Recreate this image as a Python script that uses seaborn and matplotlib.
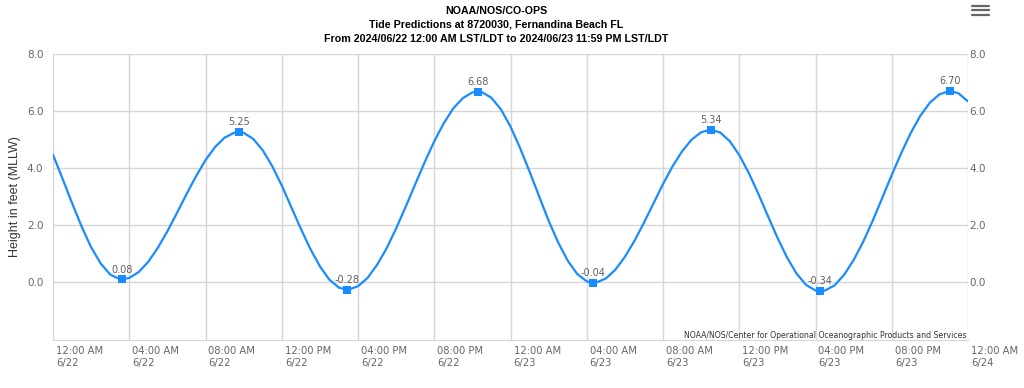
import numpy as np
import pandas as pd
import matplotlib
matplotlib.use("Agg")
import matplotlib.pyplot as plt
import matplotlib.dates as mdates
import matplotlib.transforms as mtransforms
from matplotlib.lines import Line2D
import seaborn as sns

# half-hourly predicted heights (ft, MLLW), from 6/22 00:00
heights = [
    4.46, 3.62, 2.76, 1.94, 1.21, 0.64, 0.25, 0.09,
    0.13, 0.34, 0.70, 1.19, 1.77, 2.41, 3.07, 3.70,
    4.27, 4.73, 5.06, 5.23, 5.23, 5.02, 4.62, 4.06,
    3.38, 2.62, 1.86, 1.15, 0.54, 0.07, -0.21, -0.28,
    -0.16, 0.13, 0.59, 1.17, 1.87, 2.63, 3.42, 4.20,
    4.93, 5.57, 6.09, 6.45, 6.65, 6.66, 6.46, 6.05,
    5.45, 4.70, 3.87, 3.00, 2.14, 1.38, 0.74, 0.27,
    0.01, -0.03, 0.11, 0.42, 0.87, 1.43, 2.07, 2.75,
    3.43, 4.05, 4.58, 4.99, 5.25, 5.34, 5.24, 4.94,
    4.45, 3.82, 3.09, 2.31, 1.55, 0.86, 0.29, -0.11,
    -0.31, -0.31, -0.13, 0.24, 0.76, 1.40, 2.14, 2.94,
    3.75, 4.52, 5.23, 5.83, 6.29, 6.58, 6.70, 6.62,
]
end_time = "2024-06-23 23:59"
end_height = 6.34

# high / low tide points
hl_times = [
    "2024-06-22 03:37", "2024-06-22 09:46", "2024-06-22 15:25", "2024-06-22 22:18",
    "2024-06-23 04:20", "2024-06-23 10:31", "2024-06-23 16:14", "2024-06-23 23:04",
]
hl_heights = [0.08, 5.25, -0.28, 6.68, -0.04, 5.34, -0.34, 6.70]

title_lines = [
    "NOAA/NOS/CO-OPS",
    "Tide Predictions at 8720030, Fernandina Beach FL",
    "From 2024/06/22 12:00 AM LST/LDT to 2024/06/23 11:59 PM LST/LDT",
]
credit = "NOAA/NOS/Center for Operational Oceanographic Products and Services"

times = pd.date_range("2024-06-22 00:00", periods=len(heights), freq="30min")
curve = pd.DataFrame({"time": list(times) + [pd.Timestamp(end_time)],
                      "height": heights + [end_height]})
hl = pd.DataFrame({"time": pd.to_datetime(hl_times), "height": hl_heights})
curve = pd.concat([curve, hl]).sort_values("time").reset_index(drop=True)

sns.set_style("white")
plt.rcParams["font.family"] = ["DejaVu Sans"]

blue = "#1a8cff"
grid_c = "#d6d6d6"
lab_c = "#666666"

fig = plt.figure(figsize=(10.24, 3.88), dpi=100)
ax = fig.add_axes([53 / 1024, 1 - 340 / 388, 915 / 1024, 286 / 388])

sns.lineplot(data=curve, x="time", y="height", ax=ax, color=blue, linewidth=1.6,
             sort=True, zorder=3, solid_joinstyle="round")
ax.scatter(hl["time"], hl["height"], marker="s", s=26, color=blue, zorder=4,
           linewidths=0)
for t, v in zip(hl["time"], hl["height"]):
    ax.annotate(f"{v:.2f}", xy=(t, v), xytext=(0, 3.5), textcoords="offset points",
                ha="center", va="bottom", fontsize=7, color="#606060", zorder=5)

x0 = pd.Timestamp("2024-06-22 00:00")
x1 = pd.Timestamp("2024-06-24 00:00")
ax.set_xlim(x0, x1)
ax.set_ylim(-2.05, 8.0)

ax.set_yticks([0, 2, 4, 6, 8])
ax.yaxis.set_major_formatter(matplotlib.ticker.FormatStrFormatter("%.1f"))
ax.tick_params(axis="y", length=0, labelsize=7.5, labelcolor=lab_c,
               left=False, right=False, labelleft=True, labelright=True, pad=7)
for t in ax.yaxis.get_major_ticks():
    t.label2.set_transform(t.label2.get_transform() +
                           mtransforms.ScaledTranslation(-8 / 100, 0, fig.dpi_scale_trans))

ticks = pd.date_range(x0, x1, freq="4h")
ax.set_xticks(ticks)
ax.xaxis.set_major_formatter(mdates.DateFormatter("%I:%M %p\n%-m/%d"))
ax.tick_params(axis="x", length=3.5, color=grid_c, width=1, labelsize=7.2,
               labelcolor=lab_c, pad=0.5)
offset = mtransforms.ScaledTranslation(3 / 100, 0, fig.dpi_scale_trans)
for lbl in ax.get_xticklabels():
    lbl.set_horizontalalignment("left")
    lbl.set_linespacing(1.3)
    lbl.set_transform(lbl.get_transform() + offset)

ax.grid(True, color=grid_c, linewidth=1)
for side in ["top", "left", "right"]:
    ax.spines[side].set_visible(False)
ax.spines["bottom"].set_color(grid_c)
ax.set_xlabel("")
ax.set_ylabel("")

fig.text(15 / 1024, 1 - 197 / 388, "Height in feet (MLLW)", rotation=90,
         ha="center", va="center", fontsize=9, color="#333333",
         family="Liberation Sans")

for i, line in enumerate(title_lines):
    fig.text(496 / 1024, 1 - (11 + 13.8 * i) / 388, line, ha="center", va="center",
             fontsize=7.7, fontweight="bold", color="black", family="Liberation Sans")

fig.text(967 / 1024, 1 - 335 / 388, credit, ha="right", va="center",
         fontsize=5.6, color="#333333")

for yy in [5.5, 10, 14.5]:
    fig.add_artist(Line2D([972 / 1024, 989 / 1024], [1 - yy / 388, 1 - yy / 388],
                          transform=fig.transFigure, color="#666666", linewidth=1.6))

fig.savefig("out.png", dpi=100)
